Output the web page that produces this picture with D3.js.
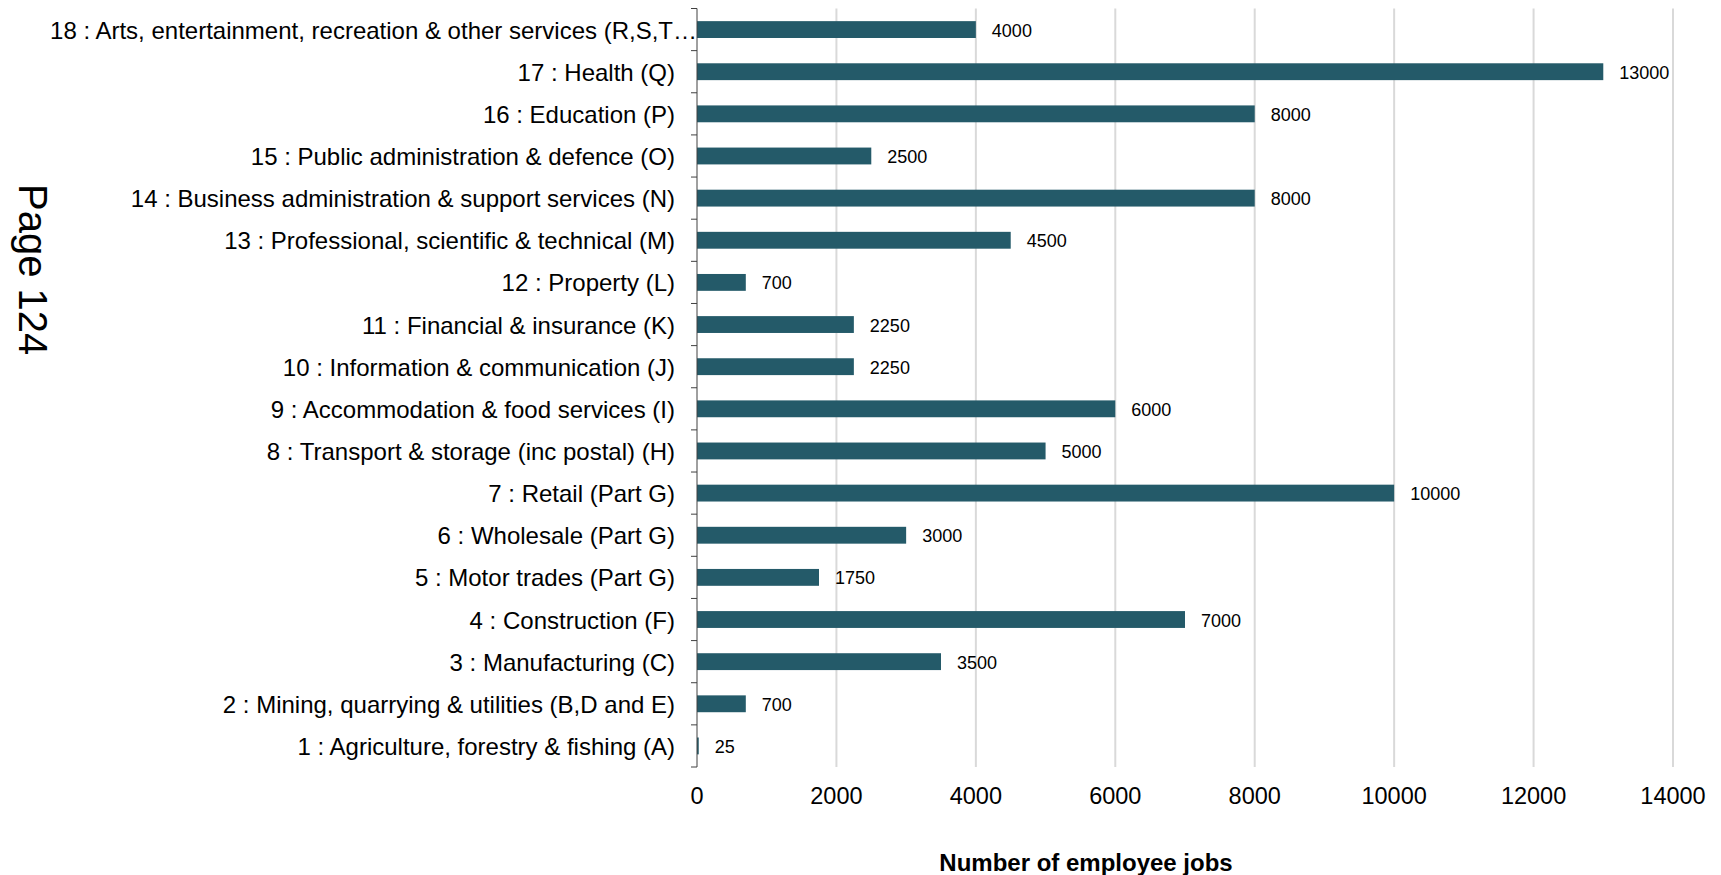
<!DOCTYPE html>
<html>
<head>
<meta charset="utf-8">
<script src="https://cdn.jsdelivr.net/npm/d3@7"></script>
<style>
  html, body { margin: 0; padding: 0; background: #fff; }
  svg { display: block; font-family: "Liberation Sans", Arial, sans-serif; }
</style>
</head>
<body>
<svg id="chart" width="1721" height="875"></svg>
<script>
// Employee jobs by broad industry group
const categories = [
  "1 : Agriculture, forestry & fishing (A)",
  "2 : Mining, quarrying & utilities (B,D and E)",
  "3 : Manufacturing (C)",
  "4 : Construction (F)",
  "5 : Motor trades (Part G)",
  "6 : Wholesale (Part G)",
  "7 : Retail (Part G)",
  "8 : Transport & storage (inc postal) (H)",
  "9 : Accommodation & food services (I)",
  "10 : Information & communication (J)",
  "11 : Financial & insurance (K)",
  "12 : Property (L)",
  "13 : Professional, scientific & technical (M)",
  "14 : Business administration & support services (N)",
  "15 : Public administration & defence (O)",
  "16 : Education (P)",
  "17 : Health (Q)",
  "18 : Arts, entertainment, recreation & other services (R,S,T\u2026"
];
const jobs = [25, 700, 3500, 7000, 1750, 3000, 10000, 5000, 6000, 2250, 2250, 700, 4500, 8000, 2500, 8000, 13000, 4000];
const xTicks = [0, 2000, 4000, 6000, 8000, 10000, 12000, 14000];
const xTitle = "Number of employee jobs";
const pageLabel = "Page 124";

const svg = d3.select("#chart");
const plotLeft = 697, plotRight = 1673, plotTop = 8.5, plotBottom = 767;

const x = d3.scaleLinear().domain([0, 14000]).range([plotLeft, plotRight]);
// first category at the bottom, last at the top
const y = d3.scaleBand()
  .domain(categories.slice().reverse())
  .range([plotTop, plotBottom])
  .paddingInner(0.6)
  .paddingOuter(0.3);

// vertical gridlines
svg.append("g")
  .selectAll("line")
  .data(xTicks.filter(t => t > 0))
  .join("line")
  .attr("x1", d => x(d)).attr("x2", d => x(d))
  .attr("y1", plotTop).attr("y2", plotBottom)
  .attr("stroke", "#d9d9d9")
  .attr("stroke-width", 2);

// bars
const rows = categories.map((c, i) => ({ c, v: jobs[i] }));
svg.append("g")
  .selectAll("rect")
  .data(rows)
  .join("rect")
  .attr("x", x(0))
  .attr("y", d => y(d.c))
  .attr("width", d => x(d.v) - x(0))
  .attr("height", y.bandwidth())
  .attr("fill", "#245a69");

// value labels
svg.append("g")
  .selectAll("text")
  .data(rows)
  .join("text")
  .attr("x", d => x(d.v) + 16)
  .attr("y", d => y(d.c) + y.bandwidth() / 2 + 7)
  .attr("font-size", 18)
  .attr("fill", "#000")
  .text(d => d3.format("d")(d.v));

// category axis: line plus ticks at band boundaries
const axis = svg.append("g");
axis.append("line")
  .attr("x1", plotLeft).attr("x2", plotLeft)
  .attr("y1", plotTop).attr("y2", plotBottom)
  .attr("stroke", "#404040").attr("stroke-width", 1);
const step = y.step();
const bounds = d3.range(categories.length + 1).map(i => plotTop + i * step);
axis.selectAll("line.tick")
  .data(bounds)
  .join("line")
  .attr("class", "tick")
  .attr("x1", plotLeft - 6).attr("x2", plotLeft)
  .attr("y1", d => d).attr("y2", d => d)
  .attr("stroke", "#404040").attr("stroke-width", 1);

// category labels
svg.append("g")
  .selectAll("text")
  .data(categories)
  .join("text")
  .attr("x", (d, i) => i === categories.length - 1 ? plotLeft : 675)
  .attr("y", d => y(d) + y.bandwidth() / 2 + 9)
  .attr("text-anchor", "end")
  .attr("font-size", 24)
  .attr("fill", "#000")
  .text(d => d);

// value axis tick labels
svg.append("g")
  .selectAll("text")
  .data(xTicks)
  .join("text")
  .attr("x", d => x(d))
  .attr("y", 804)
  .attr("text-anchor", "middle")
  .attr("font-size", 23.5)
  .attr("fill", "#000")
  .text(d => d3.format("d")(d));

// axis title
svg.append("text")
  .attr("x", 1086)
  .attr("y", 871)
  .attr("text-anchor", "middle")
  .attr("font-size", 24)
  .attr("font-weight", "bold")
  .attr("fill", "#000")
  .text(xTitle);

// page marker running down the left edge
svg.append("text")
  .attr("transform", "translate(19,184) rotate(90)")
  .attr("font-size", 40)
  .attr("fill", "#000")
  .text(pageLabel);
</script>
</body>
</html>
